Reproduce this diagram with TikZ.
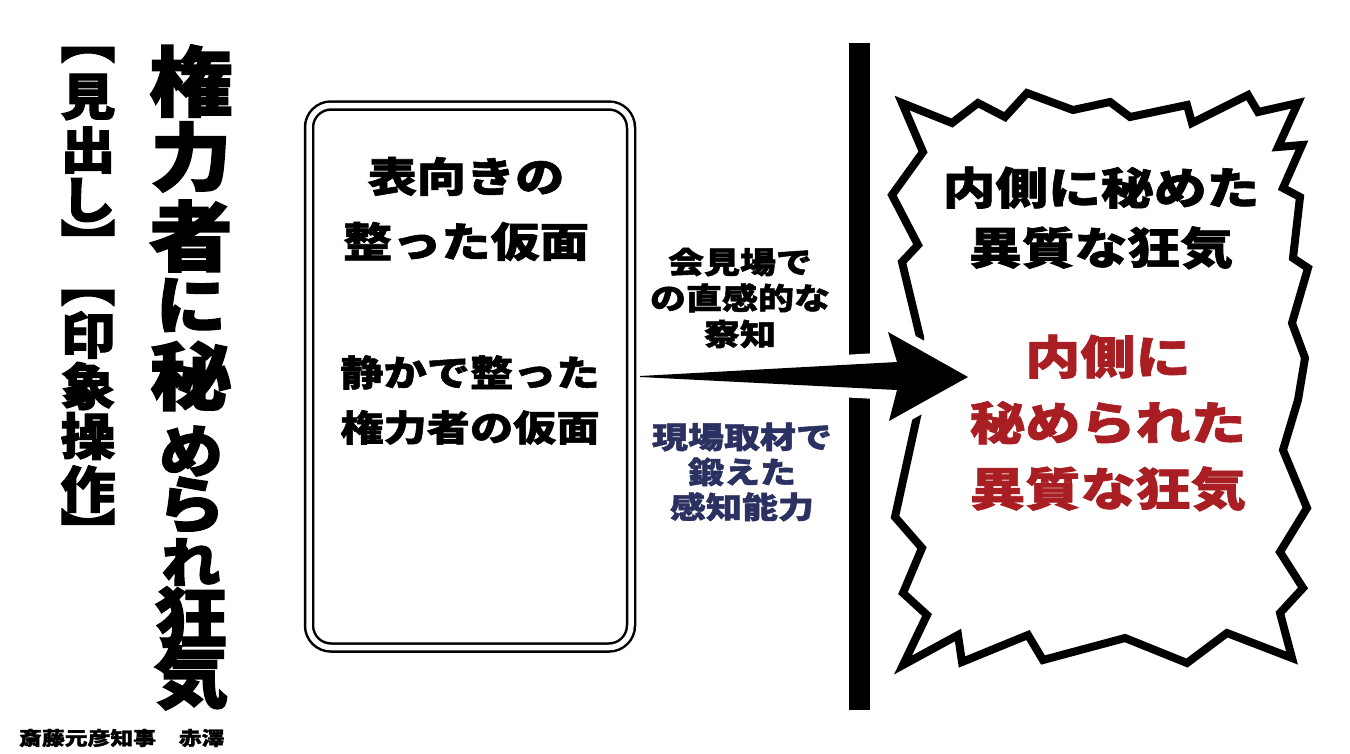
\documentclass[tikz,border=0pt]{standalone}
\usepackage{fontspec}
\newfontfamily\jp{Noto Sans CJK JP}[FakeStretch=1.2,BoldFeatures={FakeBold=1.5}]
\newfontfamily\jpv{Noto Sans CJK JP}[FakeStretch=1.1,BoldFeatures={FakeBold=2}]
\definecolor{madred}{HTML}{A81E22}
\definecolor{sensenavy}{HTML}{2B3160}
\tikzset{
	vchar/.style={font=\jpv\bfseries,inner sep=0pt},
	tagchar/.style={font=\jpv\bfseries\fontsize{50}{50}\selectfont,inner sep=0pt},
	textblock/.style={align=center,inner sep=0pt},
	maskbox/.style={draw,double,double distance=5.5pt,line width=2.5pt,rounded corners=22pt,rectangle,inner sep=0pt},
	burst/.style={draw,line width=8pt,line join=miter,fill=white},
	bigarrow/.style={fill=black,preaction={draw=white,line width=20pt,line join=round}}
}

\begin{document}
\begin{tikzpicture}[x=1pt,y=-1pt]
	\useasboundingbox[fill=white] (0,0) rectangle (1350,753);
	% vertical headings
	\foreach \ch/\y/\s [count=\i] in {権/81/76,力/157/74,者/236/76,に/305/64,秘/376/74,め/451/58,ら/505/62,れ/562/54,狂/617/66,気/677/68}
		\node[vchar] (title-\i) at (191,\y) {\fontsize{\s}{\s}\selectfont\ch};
	\foreach \ch/\y [count=\i] in {︻/55,見/97,出/150,し/200,︼/241,︻/298,印/335,象/386,操/436,作/489,︼/530}
		\node[tagchar] (tag-\i) at (88,\y) {\ch};
	\node[anchor=west,inner sep=0pt,font=\jp\bfseries\fontsize{19}{19}\selectfont] (credit) at (19,738) {斎藤元彦知事　赤澤};
	% wall and burst
	\node[fill,rectangle,inner sep=0pt,minimum width=21pt,minimum height=667pt] (wall) at (859.5,376.5) {};
	\draw[burst] (902,103) -- (952,123) -- (978,103) -- (1005,117) -- (1027,93) -- (1073,110) -- (1110,102) -- (1130,117) -- (1187,105) -- (1192,123) -- (1248,95) -- (1258,112) -- (1298,103)
		-- (1278,147) -- (1302,145) -- (1283,188) -- (1300,197) -- (1293,258) -- (1308,268) -- (1292,323) -- (1305,358) -- (1298,400) -- (1283,450) -- (1307,508) -- (1280,552) -- (1303,588) -- (1280,613) -- (1292,658)
		-- (1227,633) -- (1187,663) -- (1125,638) -- (1043,660) -- (1028,635) -- (962,662) -- (958,635) -- (903,665)
		-- (927,615) -- (903,593) -- (922,548) -- (895,517) -- (918,412) -- (921,375) -- (920,337) -- (902,262) -- (918,245) -- (892,195) -- (923,152) -- cycle;
	% arrow
	\coordinate (tail) at (640,376);
	\coordinate (tip) at (968,377);
	\fill[bigarrow] (tail) -- (897,362) -- (888,332) -- (tip) -- (889,421) -- (897,390) -- (640,377) -- cycle;
	\node[maskbox,minimum width=322pt,minimum height=542pt] (mask) at (470,376.5) {};
	% texts
	\node[textblock,font=\jp\bfseries\fontsize{41}{65}\selectfont] (mask-head) at (466,209) {表向きの\\整った仮面};
	\node[textblock,font=\jp\bfseries\fontsize{36}{55}\selectfont] (mask-sub) at (470,400) {静かで整った\\権力者の仮面};
	\node[textblock,font=\jp\bfseries\fontsize{30}{36}\selectfont] (insight) at (740,298) {会見場で\\の直感的な\\察知};
	\node[textblock,text=sensenavy,font=\jp\bfseries\fontsize{30}{35}\selectfont] (skill) at (742,472) {現場取材で\\鍛えた\\感知能力};
	\node[textblock,font=\jp\bfseries\fontsize{44}{60}\selectfont] (madness-head) at (1101,218) {内側に秘めた\\異質な狂気};
	\node[textblock,text=madred,font=\jp\bfseries\fontsize{46}{66}\selectfont] (madness) at (1108,423) {内側に\\秘められた\\異質な狂気};
\end{tikzpicture}
\end{document}
